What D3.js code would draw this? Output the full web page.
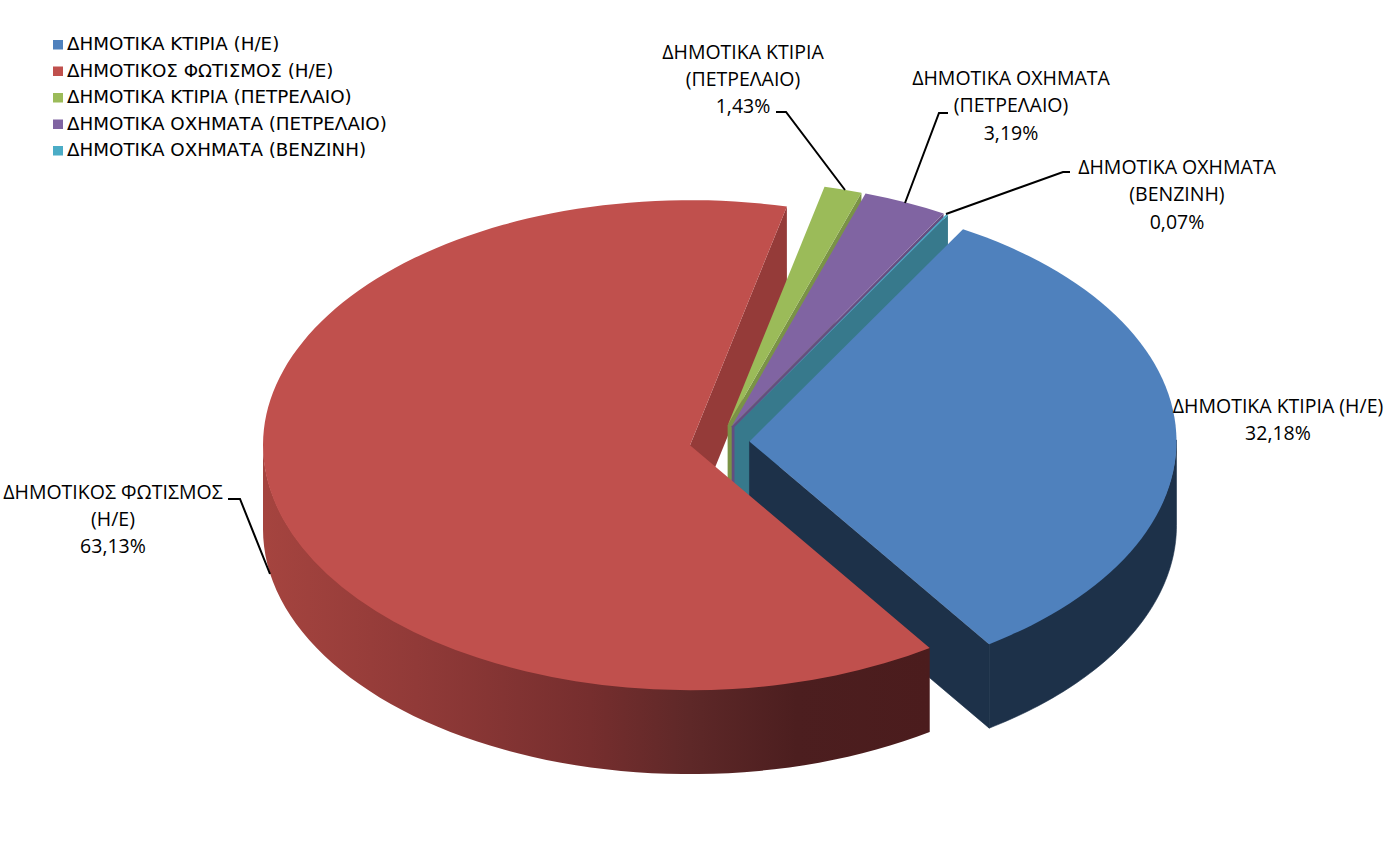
<!DOCTYPE html>
<html lang="el">
<head>
<meta charset="utf-8">
<script src="https://cdn.jsdelivr.net/npm/d3@7"></script>
<style>
html,body{margin:0;padding:0;background:#fff;}
svg{display:block;}
.legend text{font-family:"DejaVu Sans",sans-serif;font-size:18.3px;fill:#000;}
.lbl text{font-family:"Open Sans",sans-serif;font-size:19.5px;fill:#000;text-anchor:middle;}
</style>
</head>
<body>
<svg id="c" width="1394" height="856"></svg>
<script>
// ---- data ----
const categories = ["ΔΗΜΟΤΙΚΑ ΚΤΙΡΙΑ (Η/Ε)","ΔΗΜΟΤΙΚΟΣ ΦΩΤΙΣΜΟΣ (Η/Ε)","ΔΗΜΟΤΙΚΑ ΚΤΙΡΙΑ (ΠΕΤΡΕΛΑΙΟ)","ΔΗΜΟΤΙΚΑ ΟΧΗΜΑΤΑ (ΠΕΤΡΕΛΑΙΟ)","ΔΗΜΟΤΙΚΑ ΟΧΗΜΑΤΑ (ΒΕΝΖΙΝΗ)"];
const values = [32.18,63.13,1.43,3.19,0.07];
const labelLines = [
  ["ΔΗΜΟΤΙΚΑ ΚΤΙΡΙΑ (Η/Ε)"],
  ["ΔΗΜΟΤΙΚΟΣ ΦΩΤΙΣΜΟΣ","(Η/Ε)"],
  ["ΔΗΜΟΤΙΚΑ ΚΤΙΡΙΑ","(ΠΕΤΡΕΛΑΙΟ)"],
  ["ΔΗΜΟΤΙΚΑ ΟΧΗΜΑΤΑ","(ΠΕΤΡΕΛΑΙΟ)"],
  ["ΔΗΜΟΤΙΚΑ ΟΧΗΜΑΤΑ","(ΒΕΝΖΙΝΗ)"]
];
// ---- styles / layout ----
const topColors  = ["#4f81bd","#c0504d","#9bbb59","#8064a2","#4bacc6"];
const wallColors = ["#1d3149","#953b39","#7a9346","#644e80","#37798c"];
const deg = Math.PI/180;
const cx=719.5, cy=442, rx=427, ry=245, depth=84, explode=30;
const ratio = ry/rx;
const labelPos = [[1278,413],[113,498.5],[743,58.5],[1011,85],[1177,174]];
const leaders = [null,
  [[228,499],[240,499],[270,574]],
  [[776,112],[786,112],[845,190]],
  [[948,113],[939,113],[905,203]],
  [[1070,172],[1063,172],[946,214]]];

const svg = d3.select("#c");
const arcs = d3.pie().sort(null).value(d=>d)
  .startAngle(30*deg).endAngle(30*deg+2*Math.PI)(values);

// offset apex of each slice along its mid-angle
const apex = arcs.map(a=>{
  const m=(a.startAngle+a.endAngle)/2;
  return [cx+explode*Math.sin(m), cy-explode*Math.cos(m)*ratio];
});
const pt = (i,ang,dz=0)=>[apex[i][0]+rx*Math.sin(ang), apex[i][1]-ry*Math.cos(ang)+dz];

const defs = svg.append("defs");
const grad = defs.append("linearGradient").attr("id","redWall")
  .attr("gradientUnits","userSpaceOnUse").attr("x1",263).attr("x2",930).attr("y1",0).attr("y2",0);
[[0,"#a5443f"],[0.23,"#913a38"],[0.49,"#762e2e"],[0.64,"#5e2828"],[0.8,"#4c1e1f"],[1,"#4b1c1d"]]
  .forEach(s=>grad.append("stop").attr("offset",s[0]).attr("stop-color",s[1]));

const line = d3.line();
const arcGen = d3.arc().innerRadius(0).outerRadius(rx);

function radialWall(i,ang,fill){
  const a=apex[i];
  svg.append("path").attr("fill",fill).attr("stroke",i===0?fill:"none").attr("stroke-width",0.6).attr("d",line([
    a,[a[0],a[1]+depth],pt(i,ang,depth),pt(i,ang)])+"Z");
}
function outerWall(i,fill,overdraw){
  const a=arcs[i];
  const s=Math.max(a.startAngle,Math.PI/2), e=Math.min(a.endAngle,1.5*Math.PI);
  if(e<=s) return;
  const ang=d3.range(0,61).map(k=>s+(e-s)*k/60);
  // the wall's upper edge sits a little under the top face so no pale seam shows
  const pts=ang.map(t=>pt(i,t,-1.5)).concat(ang.slice().reverse().map(t=>pt(i,t,depth)));
  const p=svg.append("path").attr("fill",fill).attr("d",line(pts)+"Z");
  if(overdraw) p.attr("stroke",fill).attr("stroke-width",0.6);
}
function topFace(i){
  const a=arcs[i];
  svg.append("path").attr("fill",topColors[i]).attr("d",arcGen(a))
    .attr("transform",`translate(${apex[i][0]},${apex[i][1]}) scale(1,${ratio})`);
}

// painter's order, back to front
radialWall(1,arcs[1].endAngle,wallColors[1]);
[2,3,4].forEach(i=>{ radialWall(i,arcs[i].endAngle,wallColors[i]); topFace(i); });
outerWall(0,wallColors[0],true);
radialWall(0,arcs[0].endAngle,wallColors[0]);
topFace(0);
outerWall(1,"url(#redWall)",false);
topFace(1);

// leader lines
leaders.forEach(l=>{ if(l) svg.append("path").attr("d",line(l)).attr("fill","none").attr("stroke","#000").attr("stroke-width",2); });

// data labels
const fmt = v=>v.toFixed(2).replace(".",",")+"%";
const lbl = svg.append("g").attr("class","lbl");
labelLines.forEach((ls,i)=>{
  const t=lbl.append("text").attr("x",labelPos[i][0]).attr("y",labelPos[i][1]);
  ls.concat([fmt(values[i])]).forEach((s,k)=>{
    t.append("tspan").attr("x",labelPos[i][0]).attr("dy",k?27.3:0).text(s);
  });
});

// legend
const lg = svg.append("g").attr("class","legend");
categories.forEach((c,i)=>{
  const y=44.5+i*26.5;
  lg.append("rect").attr("x",53).attr("y",y-4.5).attr("width",10).attr("height",9.5).attr("fill",topColors[i]);
  lg.append("text").attr("x",67).attr("y",y+5.8).text(c);
});
</script>
</body>
</html>
